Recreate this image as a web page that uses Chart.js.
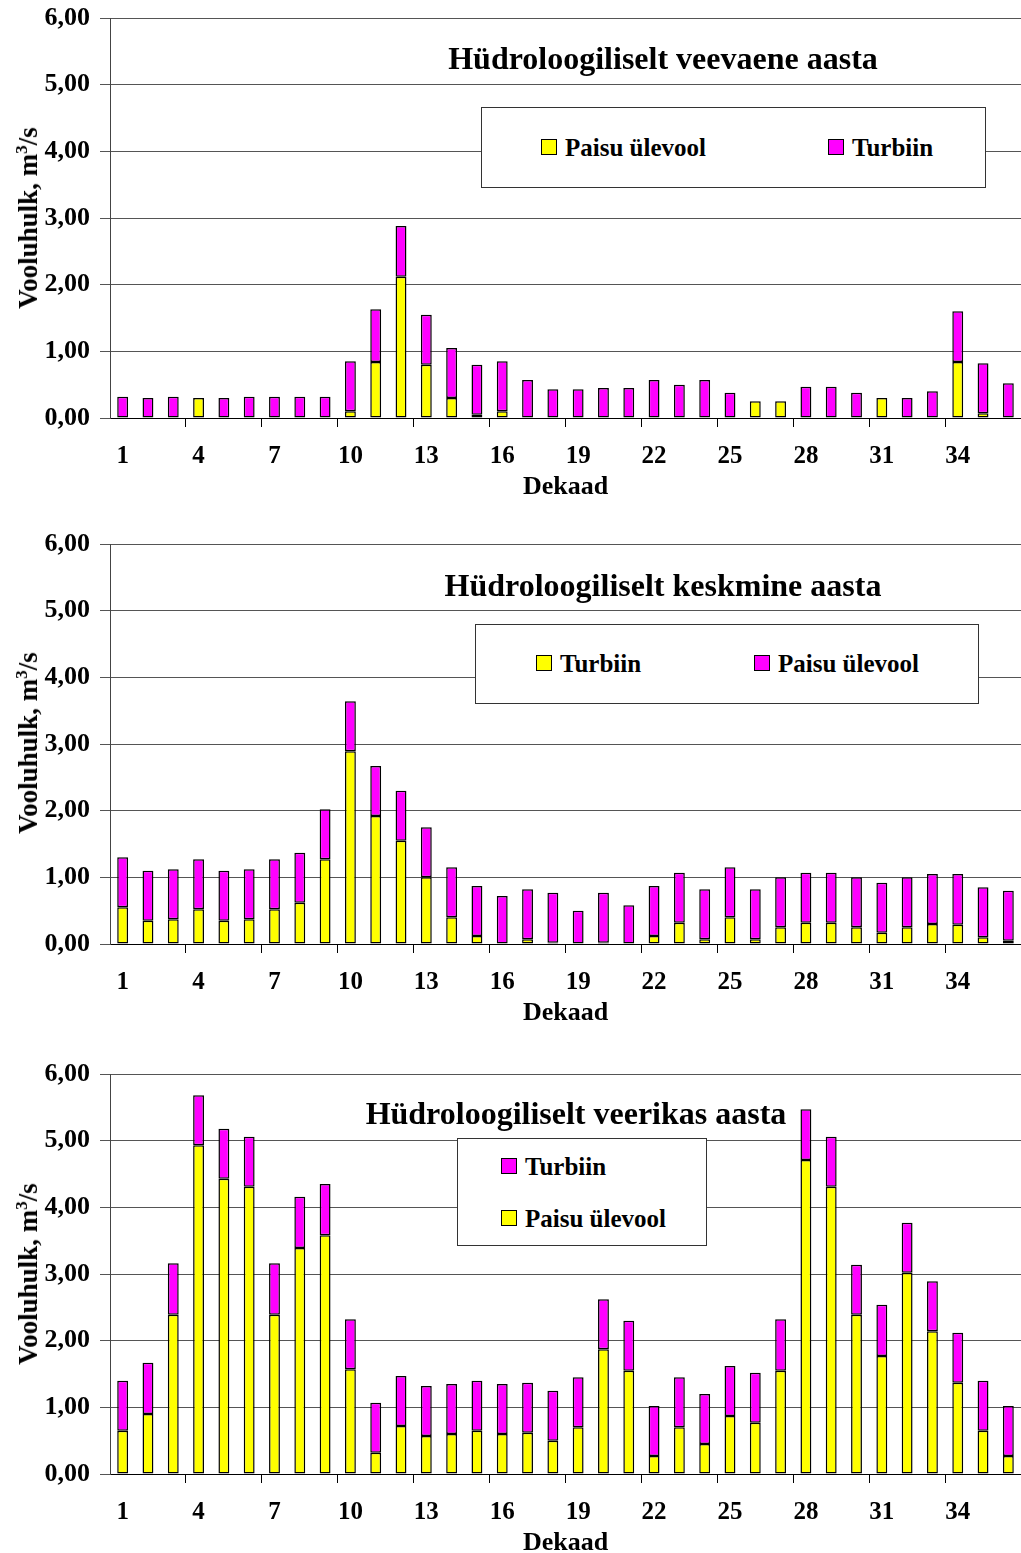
<!DOCTYPE html>
<html lang="et">
<head>
  <meta charset="UTF-8" />
  <title>Vooluhulk dekaadide kaupa</title>
  <script src="https://cdn.jsdelivr.net/npm/chart.js"></script>
  <style>
    html, body { margin: 0; padding: 0; background: white; overflow: hidden; }
    body { width: 1021px; height: 1553px; position: relative; font-family: 'Liberation Serif', 'Times New Roman', serif; font-weight: bold; color: #000; }
    .block { position: absolute; left: 0; width: 1021px; height: 500px; }
    .block canvas { position: absolute; left: 0; top: 0; }
    .title { position: absolute; font-size: 32px; white-space: nowrap; transform: translate(-50%, -50%); }
    .ytitle { position: absolute; font-size: 27px; white-space: nowrap; transform: translate(-50%, -50%) rotate(-90deg); }
    .ytitle sup { font-size: 17px; }
    .legend { position: absolute; background: white; border: 1px solid #333; }
    .item { position: absolute; font-size: 25px; white-space: nowrap; line-height: 24px; }
    .swatch { display: inline-block; width: 14px; height: 14px; border: 1.5px solid #000; margin-right: 8px; vertical-align: 1px; }
  </style>
</head>
<body>
  <div class="block" id="b1" style="top:0px">
    <canvas id="chart1" width="1021" height="500"></canvas>
    <div class="ytitle" style="left:28px; top:218px">Vooluhulk, m<sup>3</sup>/s</div>
    <div class="title" style="left:663px; top:58px">Hüdroloogiliselt veevaene aasta</div>
    <div class="legend" style="left:481px; top:107px; width:503px; height:79px">
      <div class="item" style="left:59px; top:28px"><span class="swatch" style="background:#ffff00"></span>Paisu ülevool</div>
      <div class="item" style="left:346px; top:28px"><span class="swatch" style="background:#ff00ff"></span>Turbiin</div>
    </div>
  </div>
  <div class="block" id="b2" style="top:526px">
    <canvas id="chart2" width="1021" height="500"></canvas>
    <div class="ytitle" style="left:28px; top:217px">Vooluhulk, m<sup>3</sup>/s</div>
    <div class="title" style="left:663px; top:59px">Hüdroloogiliselt keskmine aasta</div>
    <div class="legend" style="left:475px; top:98px; width:502px; height:78px">
      <div class="item" style="left:60px; top:27px"><span class="swatch" style="background:#ffff00"></span>Turbiin</div>
      <div class="item" style="left:278px; top:27px"><span class="swatch" style="background:#ff00ff"></span>Paisu ülevool</div>
    </div>
  </div>
  <div class="block" id="b3" style="top:1056px">
    <canvas id="chart3" width="1021" height="500"></canvas>
    <div class="ytitle" style="left:28px; top:218px">Vooluhulk, m<sup>3</sup>/s</div>
    <div class="title" style="left:576px; top:57px">Hüdroloogiliselt veerikas aasta</div>
    <div class="legend" style="left:457px; top:82px; width:248px; height:106px">
      <div class="item" style="left:43px; top:16px"><span class="swatch" style="background:#ff00ff"></span>Turbiin</div>
      <div class="item" style="left:43px; top:68px"><span class="swatch" style="background:#ffff00"></span>Paisu ülevool</div>
    </div>
  </div>

  <script>
    const dekaad = ['1','2','3','4','5','6','7','8','9','10','11','12','13','14','15','16','17','18',
                    '19','20','21','22','23','24','25','26','27','28','29','30','31','32','33','34','35','36'];
    const yTicks = [0, 1, 2, 3, 4, 5, 6];

    // veevaene aasta: kollane = Paisu ülevool (all), lilla = Turbiin (peal)
    const veevaenePaisu = [0,0,0,0.30,0,0,0,0,0,0.10,0.84,2.12,0.80,0.30,0.05,0.10,0,0,
                           0,0,0,0,0,0,0,0.25,0.25,0,0,0,0.30,0,0,0.84,0.07,0];
    const veevaeneTurbiin = [0.32,0.30,0.32,0,0.30,0.32,0.32,0.32,0.32,0.75,0.79,0.76,0.75,0.75,0.75,0.75,0.57,0.43,
                             0.43,0.45,0.45,0.57,0.50,0.57,0.38,0,0,0.47,0.47,0.38,0,0.30,0.40,0.76,0.75,0.52];

    // keskmine aasta: kollane = Turbiin (all), lilla = Paisu ülevool (peal)
    const keskmineTurbiin = [0.55,0.35,0.37,0.52,0.35,0.37,0.52,0.62,1.27,2.89,1.92,1.55,1.00,0.40,0.12,0,0.07,0.02,
                             0,0.02,0,0.12,0.32,0.07,0.40,0.07,0.25,0.32,0.32,0.25,0.17,0.25,0.30,0.29,0.10,0.05];
    const keskminePaisu = [0.75,0.75,0.75,0.75,0.75,0.75,0.75,0.75,0.75,0.75,0.75,0.75,0.75,0.75,0.75,0.72,0.75,0.75,
                           0.50,0.75,0.58,0.75,0.75,0.75,0.75,0.75,0.75,0.75,0.75,0.75,0.75,0.75,0.75,0.76,0.75,0.75];

    // veerikas aasta: kollane = Paisu ülevool (all), lilla = Turbiin (peal)
    const veerikasPaisu = [0.65,0.90,2.39,4.93,4.43,4.31,2.39,3.39,3.58,1.57,0.32,0.72,0.57,0.60,0.65,0.60,0.62,0.50,
                           0.70,1.87,1.55,0.27,0.70,0.45,0.87,0.77,1.55,4.71,4.31,2.39,1.77,3.02,2.14,1.37,0.65,0.27];
    const veerikasTurbiin = [0.75,0.77,0.77,0.75,0.75,0.75,0.77,0.77,0.77,0.75,0.75,0.75,0.75,0.75,0.75,0.75,0.75,0.75,
                             0.75,0.75,0.75,0.75,0.75,0.75,0.75,0.75,0.77,0.76,0.75,0.75,0.77,0.75,0.75,0.75,0.75,0.75];

    const YELLOW = '#ffff00';
    const MAGENTA = '#ff00ff';
    const FONT = 'Liberation Serif';

    function barSet(label, data, color) {
      return {
        label: label,
        data: data,
        backgroundColor: color,
        borderColor: '#000',
        // no outline on empty segments
        borderWidth: (ctx) => (ctx.raw ? 1.5 : 0),
        borderSkipped: false,
        barPercentage: 0.43,
        categoryPercentage: 1.0
      };
    }

    function createChart(canvasId, bottomSet, topSet) {
      return new Chart(document.getElementById(canvasId), {
        type: 'bar',
        data: { labels: dekaad, datasets: [bottomSet, topSet] },
        options: {
          responsive: false,
          animation: false,
          layout: { padding: { top: 18, right: 0, left: 0, bottom: 0 } },
          plugins: { legend: { display: false }, tooltip: { enabled: false } },
          scales: {
            x: {
              stacked: true,
              offset: true,
              afterFit: (scale) => { scale.height = 82; scale.paddingLeft = 0; scale.paddingRight = 0; },
              border: { color: '#000', width: 1 },
              grid: {
                drawOnChartArea: false,
                tickLength: 9,
                color: (ctx) => (ctx.index % 3 === 0 && ctx.index > 0) ? '#000' : 'rgba(0,0,0,0)'
              },
              ticks: {
                autoSkip: false,
                maxRotation: 0,
                padding: 15,
                color: '#000',
                font: { family: FONT, size: 25, weight: 'bold' },
                callback: (val, i) => (i % 3 === 0 ? dekaad[i] : '')
              },
              title: {
                display: true,
                text: 'Dekaad',
                color: '#000',
                padding: { top: 0, bottom: 0 },
                font: { family: FONT, size: 26, weight: 'bold', lineHeight: 1 }
              }
            },
            y: {
              stacked: true,
              min: yTicks[0],
              max: yTicks[yTicks.length - 1],
              afterFit: (scale) => { scale.width = 110; scale.paddingTop = 0; scale.paddingBottom = 0; },
              afterBuildTicks: (scale) => { scale.ticks = yTicks.map(v => ({ value: v })); },
              border: { color: '#444', width: 1 },
              grid: { color: '#555', lineWidth: 1, tickLength: 10 },
              ticks: {
                padding: 10,
                color: '#000',
                font: { family: FONT, size: 26, weight: 'bold' },
                callback: (v) => v.toFixed(2).replace('.', ',')
              }
            }
          }
        }
      });
    }

    createChart('chart1', barSet('Paisu ülevool', veevaenePaisu, YELLOW), barSet('Turbiin', veevaeneTurbiin, MAGENTA));
    createChart('chart2', barSet('Turbiin', keskmineTurbiin, YELLOW), barSet('Paisu ülevool', keskminePaisu, MAGENTA));
    createChart('chart3', barSet('Paisu ülevool', veerikasPaisu, YELLOW), barSet('Turbiin', veerikasTurbiin, MAGENTA));
  </script>
</body>
</html>
